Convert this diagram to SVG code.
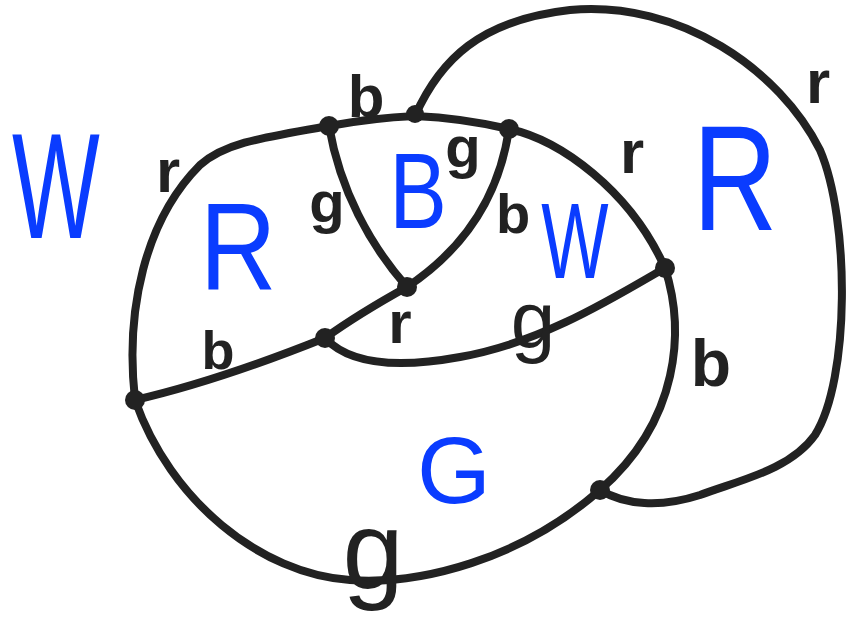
<svg xmlns="http://www.w3.org/2000/svg" width="852" height="619" viewBox="0 0 852 619">
<style>
.e{fill:none;stroke:#222;stroke-width:8;stroke-linecap:round;stroke-linejoin:round}
.v{fill:#222}
.f{font-family:"Liberation Sans",Arial,sans-serif;fill:#0a3cff;text-anchor:middle}
.l{font-family:"Liberation Sans",Arial,sans-serif;font-weight:bold;fill:#222;text-anchor:middle}
.n{font-weight:normal}
</style>
<rect width="852" height="619" fill="#fff"/>
<g id="connectors">
<path class="e" d="M135,400 C125,310 145,220 200,165 C225,143 260,138 329,126"/>
<path class="e" d="M329,126 Q372,118 415,116 Q462,118 509,129"/>
<path class="e" d="M509,129 C560,140 630,190 665,268"/>
<path class="e" d="M665,268 C685,330 680,420 600,490"/>
<path class="e" d="M600,490 C520,560 420,585 350,580 C260,574 170,500 135,400"/>
<path class="e" d="M415,116 C440,60 480,20 570,10 C680,0 780,70 820,150 C850,220 850,380 815,435 C790,470 740,480 700,495 C660,508 625,505 600,490"/>
<path class="e" d="M329,126 C340,190 370,245 407,287"/>
<path class="e" d="M509,129 C500,190 470,245 407,287"/>
<path class="e" d="M135,400 C200,385 270,360 325,338"/>
<path class="e" d="M325,338 C350,320 380,302 407,287"/>
<path class="e" d="M325,338 C350,365 400,368 460,357 C540,343 610,300 665,268"/>
</g>
<g id="edge-labels">
<text class="l" x="168" y="192" font-size="62">r</text>
<text class="l" x="366" y="117" font-size="60">b</text>
<text class="l" x="327" y="222" font-size="58">g</text>
<text class="l" x="463" y="167" font-size="58">g</text>
<text class="l" x="513" y="233" font-size="56">b</text>
<text class="l" x="632" y="173" font-size="62">r</text>
<text class="l" x="818" y="103" font-size="62">r</text>
<text class="l" x="218" y="369" font-size="54">b</text>
<text class="l" x="400" y="343" font-size="60">r</text>
<text class="l n" x="533" y="347" font-size="80">g</text>
<text class="l" x="711" y="386" font-size="66">b</text>
<text class="l n" x="373" y="588" font-size="110">g</text>
</g>
<g id="faces">
<text class="f" transform="translate(56,238) scale(0.62,1)" font-size="150">W</text>
<text class="f" transform="translate(238,290) scale(0.85,1)" font-size="125">R</text>
<text class="f" transform="translate(418,228) scale(0.8,1)" font-size="108">B</text>
<text class="f" transform="translate(575,278) scale(0.66,1)" font-size="108">W</text>
<text class="f" transform="translate(735,230) scale(0.78,1)" font-size="150">R</text>
<text class="f" x="454" y="503" font-size="95">G</text>
</g>
<g id="v-left"><circle class="v" cx="135" cy="400" r="10"/></g>
<g id="v-topleft"><circle class="v" cx="329" cy="126" r="10"/></g>
<g id="v-top"><circle class="v" cx="415" cy="114" r="9"/></g>
<g id="v-topright"><circle class="v" cx="509" cy="129" r="10"/></g>
<g id="v-right"><circle class="v" cx="665" cy="268" r="10"/></g>
<g id="v-lowright"><circle class="v" cx="600" cy="490" r="10"/></g>
<g id="v-center"><circle class="v" cx="407" cy="287" r="10"/></g>
<g id="v-inner"><circle class="v" cx="325" cy="338" r="10"/></g>
</svg>
